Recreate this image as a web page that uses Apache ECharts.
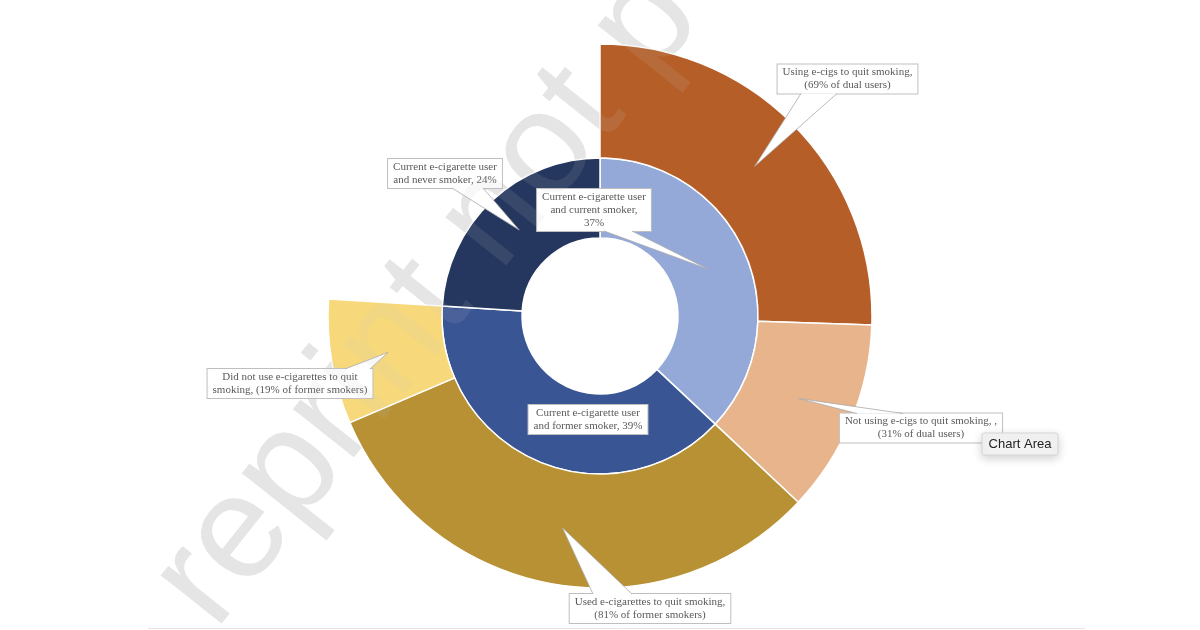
<!DOCTYPE html>
<html><head><meta charset="utf-8">
<script src="https://cdn.jsdelivr.net/npm/echarts@6/dist/echarts.min.js"></script>
<style>html,body{margin:0;background:#fff}#c{width:1200px;height:630px}</style>
</head><body><div id="c"></div>
<script>
// ---- data ----
const innerNames = ['Current e-cigarette user and current smoker', 'Current e-cigarette user and former smoker', 'Current e-cigarette user and never smoker'];
const innerValues = [37, 39, 24];
const innerLabels = ['Current e-cigarette user\nand current smoker,\n37%', 'Current e-cigarette user\nand former smoker, 39%', 'Current e-cigarette user\nand never smoker, 24%'];
const outerNames = ['Using e-cigs to quit smoking', 'Not using e-cigs to quit smoking', 'Used e-cigarettes to quit smoking', 'Did not use e-cigarettes to quit smoking'];
const outerParent = [0, 0, 1, 1];
const outerShares = [69, 31, 81, 19];
const outerLabels = ['Using e-cigs to quit smoking,\n(69% of dual users)', 'Not using e-cigs to quit smoking, ,\n(31% of dual users)', 'Used e-cigarettes to quit smoking,\n(81% of former smokers)', 'Did not use e-cigarettes to quit\nsmoking, (19% of former smokers)'];

// ---- style / layout ----
const innerColors = ['#94A9D7', '#395593', '#25375F'];
const outerColors = ['#B65E27', '#E8B48C', '#B79133', '#F7D97B'];
const CENTER = [600, 316];
const R_HOLE = 78, R_IN = 158, R_OUT = 272;
// callout box centres and wedge bases [x1, x2, y]
const innerCallouts = [
  {c: [594, 210], base: [604, 632, 231]},
  {c: [588, 419.5], base: null},
  {c: [445, 173.5], base: [452, 483, 188]}
];
const outerCallouts = [
  {c: [847.5, 79], base: [801, 837, 93.5]},
  {c: [921, 428], base: [857, 903, 413.5]},
  {c: [650, 608.5], base: [593, 632, 594]},
  {c: [290, 383.5], base: [345, 370, 369]}
];

const outerValues = outerShares.map((s, i) => innerValues[outerParent[i]] * s / 100);
const blankValue = innerValues[2];
const outerAll = outerValues.concat([blankValue]);

function midAngleDeg(values, i) {
  const total = values.reduce((a, b) => a + b, 0);
  let cum = 0;
  for (let k = 0; k < i; k++) cum += values[k];
  return (cum + values[i] / 2) / total * 360;
}
function tipPoint(values, i, r) {
  const a = midAngleDeg(values, i) * Math.PI / 180;
  return [CENTER[0] + r * Math.sin(a), CENTER[1] - r * Math.cos(a)];
}
function makeLayout(callouts) {
  return function (p) {
    const co = callouts[p.dataIndex];
    if (!co) return {};
    return {x: co.c[0], y: co.c[1], align: 'center', verticalAlign: 'middle'};
  };
}
function wedges(values, callouts, rMid) {
  const out = [];
  callouts.forEach((co, i) => {
    if (!co.base) return;
    const t = tipPoint(values, i, rMid);
    const pts = [[co.base[0], co.base[2]], t, [co.base[1], co.base[2]]];
    out.push({type: 'polygon', z: 60, silent: true, shape: {points: pts}, style: {fill: '#fff', stroke: null}});
    out.push({type: 'polyline', z: 61, silent: true, shape: {points: pts}, style: {stroke: '#a9a9a9', lineWidth: 0.8, fill: null}});
  });
  return out;
}
function watermark(z, fill) {
  return {
    type: 'text', x: 241, y: 652, rotation: 0.899, z: z, silent: true,
    style: {text: 'reprint not permitted', font: '147px "Liberation Sans", Arial, sans-serif',
      fill: fill, align: 'left', verticalAlign: 'bottom'}
  };
}

const labelStyle = {
  show: true, position: 'outside',
  fontFamily: '"Liberation Serif", "Times New Roman", serif',
  fontSize: 11, lineHeight: 13, color: '#595959', align: 'center',
  backgroundColor: '#fff', borderColor: '#bfbfbf', borderWidth: 1,
  padding: [2, 5, 1, 5]
};

const chart = echarts.init(document.getElementById('c'));
chart.setOption({
  animation: false,
  backgroundColor: '#fff',
  series: [
    {
      type: 'pie', center: CENTER, radius: [R_HOLE, R_IN], startAngle: 90, clockwise: true,
      avoidLabelOverlap: false, silent: true, z: 2,
      itemStyle: {borderColor: '#fff', borderWidth: 1.5},
      label: Object.assign({}, labelStyle, {formatter: p => innerLabels[p.dataIndex]}),
      labelLine: {show: false},
      labelLayout: makeLayout(innerCallouts),
      data: innerValues.map((v, i) => ({name: innerNames[i], value: v, itemStyle: {color: innerColors[i]}}))
    },
    {
      type: 'pie', center: CENTER, radius: [R_IN, R_OUT], startAngle: 90, clockwise: true,
      avoidLabelOverlap: false, silent: true, z: 2,
      itemStyle: {borderColor: '#fff', borderWidth: 1.5},
      label: Object.assign({}, labelStyle, {formatter: p => outerLabels[p.dataIndex] || ''}),
      labelLine: {show: false},
      labelLayout: makeLayout(outerCallouts),
      data: outerValues.map((v, i) => ({
        name: outerNames[i], value: v, itemStyle: {color: outerColors[i]}
      })).concat([{
        name: '', value: blankValue,
        itemStyle: {color: 'rgba(0,0,0,0)', borderWidth: 0},
        label: {show: false}
      }])
    }
  ],
  graphic: [
    watermark(0, '#eaeaea'),
    {type: 'line', shape: {x1: 148, y1: 628.5, x2: 1085, y2: 628.5}, style: {stroke: '#e4e4e4', lineWidth: 1}, z: 1},
    ...wedges(innerValues, innerCallouts, (R_HOLE + R_IN) / 2),
    ...wedges(outerAll, outerCallouts, (R_IN + R_OUT) / 2),
    watermark(200, 'rgba(200,200,200,0.12)'),
    {type: 'rect', z: 300, silent: true, shape: {x: 982, y: 433, width: 76, height: 22, r: 2},
      style: {fill: '#f3f3f3', stroke: '#d6d6d6', lineWidth: 1, shadowBlur: 10, shadowColor: 'rgba(0,0,0,0.18)', shadowOffsetY: 3}},
    {type: 'text', z: 301, silent: true, x: 1020, y: 444,
      style: {text: 'Chart Area', font: '13px "Liberation Sans", Arial, sans-serif', fill: '#222', align: 'center', verticalAlign: 'middle'}}
  ]
});
</script>
</body></html>
